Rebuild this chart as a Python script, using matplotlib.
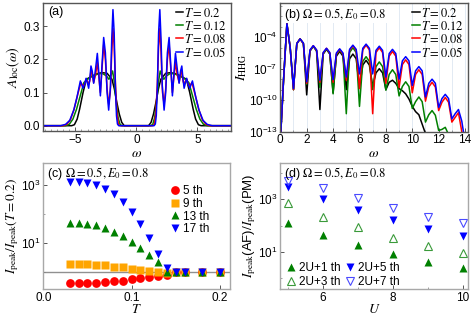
import numpy as np
import matplotlib.pyplot as plt
from matplotlib.ticker import MultipleLocator, FixedLocator, NullFormatter

plt.rcParams['font.family'] = ['Liberation Sans', 'DejaVu Sans']
plt.rcParams['mathtext.fontset'] = 'stix'
plt.rcParams['font.size'] = 8
plt.rcParams['xtick.direction'] = 'in'
plt.rcParams['ytick.direction'] = 'in'

# ---- (a) local spectral function, omega >= 0 (spectrum is symmetric) ----
w_T020 = [0.0, 1.0, 1.2, 1.4, 1.6, 1.8, 2.0, 2.4, 2.8, 3.2, 3.6, 4.1, 4.37, 4.65, 4.85, 5.08, 5.3, 7.8]
A_T020 = [0, 0, 0.01, 0.035, 0.07, 0.11, 0.14, 0.158, 0.16, 0.157, 0.15, 0.14, 0.1, 0.05, 0.02, 0.003, 0, 0]

w_T012 = [0.0, 1.2, 1.35, 1.5, 1.65, 1.8, 1.95, 2.1, 2.25, 2.45, 2.8, 3.2, 3.6, 4.0, 4.3, 4.6, 4.9, 5.2, 5.5, 5.8, 7.8]
A_T012 = [0, 0, 0.005, 0.025, 0.07, 0.13, 0.165, 0.15, 0.14, 0.15, 0.158, 0.155, 0.15, 0.14, 0.13, 0.09, 0.05, 0.02, 0.004, 0, 0]

w_T008 = [0, 1.35, 1.48, 1.6, 1.72, 1.82, 1.92, 2.02, 2.14, 2.27, 2.4, 2.54, 2.68, 2.82, 2.95, 3.08, 3.2, 3.34,
          3.5, 3.62, 3.72, 3.82, 3.91, 4.02, 4.12, 4.24, 4.37, 4.55, 4.8, 5.1, 5.4, 5.7, 6.0, 7.8]
A_T008 = [0, 0, 0.005, 0.04, 0.13, 0.24, 0.293, 0.22, 0.1, 0.065, 0.11, 0.2, 0.245, 0.17, 0.1, 0.15, 0.19, 0.155,
          0.13, 0.155, 0.165, 0.135, 0.125, 0.135, 0.14, 0.125, 0.12, 0.13, 0.095, 0.05, 0.018, 0.004, 0, 0]

w_T005 = [0, 1.45, 1.55, 1.63, 1.72, 1.82, 1.92, 2.02, 2.12, 2.27, 2.4, 2.54, 2.68, 2.82, 2.95, 3.08, 3.2, 3.35,
          3.5, 3.62, 3.72, 3.82, 3.91, 4.02, 4.12, 4.24, 4.37, 4.59, 4.86, 5.13, 5.46, 5.8, 6.2, 7.8]
A_T005 = [0, 0, 0.005, 0.03, 0.12, 0.28, 0.35, 0.26, 0.12, 0.047, 0.1, 0.22, 0.266, 0.18, 0.09, 0.16, 0.218, 0.17,
          0.128, 0.165, 0.18, 0.14, 0.113, 0.13, 0.143, 0.125, 0.113, 0.135, 0.087, 0.047, 0.016, 0.004, 0, 0]

# ---- (b) HHG spectra, log10(I) sampled every 0.25 in omega from 0 to 14 ----
w_hhg = np.arange(0, 14.01, 0.25)
logI_T020 = [-14, -8.0, -2.7, -5.0, -9.0, -4.6, -4.15, -4.6, -9.5, -5.3, -4.85, -5.3, -10.9, -5.6, -5.15, -5.6,
             -9.3, -5.8, -5.35, -5.8, -9.0, -6.05, -5.6, -6.05, -8.8, -6.65, -6.2, -6.65, -8.7, -7.4, -7.0, -7.4,
             -9.0, -8.3, -8.1, -8.4, -8.9, -9.1, -9.4, -9.9, -10.6, -11.1, -11.4, -12.3, -13.2, -14, -14, -14,
             -14, -14, -14, -14, -14, -14, -14, -14, -14]
logI_T012 = [-14, -8.0, -2.7, -5.0, -9.0, -4.6, -4.15, -4.6, -8.5, -5.3, -4.85, -5.3, -8.8, -5.55, -5.1, -5.55,
             -9.4, -5.65, -5.2, -5.65, -11.3, -5.45, -5.0, -5.45, -10.6, -6.3, -5.85, -6.3, -9.0, -6.8, -6.35, -6.8,
             -9.05, -7.55, -7.1, -7.55, -9.6, -8.7, -8.25, -8.7, -10.8, -10.15, -9.7, -10.15, -12.1, -11.4, -11.0,
             -11.45, -12.9, -12.8, -12.6, -13.3, -14, -14, -14, -14, -14]
logI_T008 = [-14, -8.0, -2.7, -5.0, -9.0, -4.6, -4.15, -4.6, -8.4, -5.25, -4.8, -5.25, -8.3, -5.5, -5.05, -5.5,
             -8.3, -5.6, -5.15, -5.6, -8.1, -5.25, -4.8, -5.25, -8.9, -5.2, -4.75, -5.2, -11.3, -5.45, -5.0, -5.45,
             -8.4, -5.8, -5.35, -5.8, -8.8, -6.6, -6.15, -6.6, -9.3, -7.55, -7.1, -7.55, -10.1, -8.75, -8.3,
             -8.75, -11.0, -10.2, -9.75, -10.2, -12.1, -11.65, -11.2, -13.0, -14]
logI_T005 = [-14, -8.0, -2.7, -5.0, -8.9, -4.6, -4.15, -4.55, -8.25, -5.2, -4.8, -5.2, -8.1, -5.45, -5.05, -5.45,
             -8.05, -5.5, -5.1, -5.5, -7.8, -5.15, -4.75, -5.15, -7.5, -5.05, -4.65, -5.05, -7.5, -5.25, -4.85, -5.25,
             -7.8, -5.55, -5.15, -5.55, -8.0, -6.25, -5.85, -6.25, -8.6, -7.2, -6.8, -7.2, -9.7, -8.4, -8.0,
             -8.4, -10.7, -9.85, -9.45, -9.85, -11.8, -11.3, -10.9, -12.0, -14]

# ---- (c) peak intensity ratio vs temperature ----
T_vals = [0.03, 0.04, 0.05, 0.06, 0.07, 0.08, 0.09, 0.10, 0.11, 0.12, 0.13, 0.14, 0.15, 0.16, 0.18, 0.20]
h5 = [0.42, 0.43, 0.44, 0.45, 0.47, 0.5, 0.53, 0.58, 0.63, 0.68, 0.73, 0.85, 1, 1, 1, 1]
h9 = [1.95, 1.95, 1.9, 1.85, 1.8, 1.6, 1.5, 1.35, 1.2, 1.1, 1.05, 0.97, 1, 1, 1, 1]
h13 = [48, 48, 46, 42, 33, 25, 18, 11.4, 6.7, 4.0, 2.2, 1.05, 1, 1, 1, 1]
h17 = [1290, 1230, 1130, 1000, 710, 490, 267, 121, 46, 14.8, 4.3, 1.4, 1, 1, 1, 1]

# ---- (d) AF / PM peak ratio vs U ----
U_vals = [5, 6, 7, 8, 9, 10]
r_2U1 = [128, 44, 18, 8, 4, 2.5]
r_2U3 = [700, 218, 86, 35, 16.6, 9]
r_2U5 = [2870, 1000, 390, 162, 71, 40]
r_2U7 = [5100, 2630, 1090, 480, 218, 121]

temps = ['0.2', '0.12', '0.08', '0.05']
cols = ['black', 'green', 'red', 'blue']


def mirror(w, a):
    w = np.asarray(w, float)
    a = np.asarray(a, float)
    return np.concatenate([-w[:0:-1], w]), np.concatenate([a[:0:-1], a])


fig = plt.figure(figsize=(4.74, 3.23), dpi=100)
W, H = 474, 323
ax_a = fig.add_axes([43 / W, 1 - 131 / H, 188 / W, 128 / H])
ax_b = fig.add_axes([280.3 / W, 1 - 131.5 / H, 187.4 / W, 128.5 / H])
ax_c = fig.add_axes([43.3 / W, 1 - 289 / H, 186.7 / W, 126.3 / H])
ax_d = fig.add_axes([280.3 / W, 1 - 289 / H, 187.4 / W, 126.3 / H])

# (a)
for w, A, c, t in zip([w_T020, w_T012, w_T008, w_T005], [A_T020, A_T012, A_T008, A_T005], cols, temps):
    ww, aa = mirror(w, A)
    ax_a.plot(ww, aa, color=c, lw=1.1, label=r'$T=%s$' % t)
ax_a.set_xlim(-7.65, 7.75)
ax_a.set_ylim(-0.016, 0.37)
ax_a.xaxis.set_major_locator(MultipleLocator(5))
ax_a.xaxis.set_minor_locator(MultipleLocator(0.5))
ax_a.yaxis.set_major_locator(MultipleLocator(0.1))
ax_a.yaxis.set_major_formatter(plt.FormatStrFormatter('%.1f'))
ax_a.set_xlabel(r'$\omega$', fontsize=10, labelpad=0)
ax_a.set_ylabel(r'$A_{\rm loc}(\omega)$', fontsize=10, labelpad=1)
ax_a.text(0.03, 0.98, '(a)', transform=ax_a.transAxes, va='top', ha='left', fontsize=9)
ax_a.legend(loc='upper right', bbox_to_anchor=(1.02, 1.03), frameon=False, fontsize=9,
            handlelength=0.6, handletextpad=0.1, labelspacing=0.0, borderaxespad=0.2)

# (b)
for lg, c, t in zip([logI_T020, logI_T012, logI_T008, logI_T005], cols, temps):
    ax_b.semilogy(w_hhg, 10.0 ** np.asarray(lg), color=c, lw=1.1, label=r'$T=%s$' % t)
ax_b.set_xlim(0, 14.2)
ax_b.set_ylim(1e-13, 10 ** -0.72)
ax_b.xaxis.set_major_locator(MultipleLocator(2))
ax_b.xaxis.set_minor_locator(MultipleLocator(1))
ax_b.grid(axis='x', which='both', color='#e2eaf3', lw=0.7)
ax_b.set_axisbelow(True)
ax_b.yaxis.set_major_locator(FixedLocator([1e-13, 1e-10, 1e-7, 1e-4]))
ax_b.yaxis.set_minor_locator(FixedLocator([10.0 ** k for k in range(-13, 0)]))
ax_b.yaxis.set_minor_formatter(NullFormatter())
ax_b.set_xlabel(r'$\omega$', fontsize=10, labelpad=0)
ax_b.set_ylabel(r'$I_{\rm HHG}$', fontsize=10, labelpad=0)
ax_b.text(0.02, 0.98, r'(b) $\Omega=0.5, E_0=0.8$', transform=ax_b.transAxes, va='top', ha='left',
          fontsize=9, bbox=dict(facecolor='white', edgecolor='none', pad=0.5))
ax_b.legend(loc='upper right', bbox_to_anchor=(1.02, 1.03), frameon=False, fontsize=9,
            handlelength=0.6, handletextpad=0.1, labelspacing=0.0, borderaxespad=0.2)

# (c)
ax_c.axhline(1, color='#909090', lw=1.0, zorder=1)
ax_c.semilogy(T_vals, h5, 'o', color='red', ms=6.3, mec='none', label='5 th')
ax_c.semilogy(T_vals, h9, 's', color='orange', ms=5.6, mec='none', label='9 th')
ax_c.semilogy(T_vals, h13, '^', color='green', ms=6.3, mec='none', label='13 th')
ax_c.semilogy(T_vals, h17, 'v', color='blue', ms=6.3, mec='none', label='17 th')
ax_c.set_xlim(0, 0.2113)
ax_c.set_ylim(0.272, 5750)
ax_c.xaxis.set_major_locator(MultipleLocator(0.1))
ax_c.xaxis.set_major_formatter(plt.FormatStrFormatter('%.1f'))
ax_c.yaxis.set_major_locator(FixedLocator([1e1, 1e3]))
ax_c.yaxis.set_minor_locator(FixedLocator([1e0, 1e2]))
ax_c.yaxis.set_minor_formatter(NullFormatter())
ax_c.set_xlabel(r'$T$', fontsize=10, labelpad=-1)
ax_c.set_ylabel(r'$I_{\rm peak}/I_{\rm peak}(T=0.2)$', fontsize=9.5, labelpad=0)
ax_c.text(0.02, 0.985, r'(c) $\Omega=0.5, E_0=0.8$', transform=ax_c.transAxes, va='top', ha='left', fontsize=9)
ax_c.legend(loc='upper left', bbox_to_anchor=(0.68, 0.82), frameon=False, fontsize=8.5,
            handlelength=0.8, handletextpad=0.3, labelspacing=0.05, borderaxespad=0, borderpad=0)

# (d)
ax_d.semilogy(U_vals, r_2U1, '^', color='green', ms=6.3, mec='none', label='2U+1 th')
ax_d.semilogy(U_vals, r_2U3, '^', mfc='none', mec='#3a9a3a', mew=0.8, ms=6.3, label='2U+3 th')
ax_d.semilogy(U_vals, r_2U5, 'v', color='blue', ms=6.3, mec='none', label='2U+5 th')
ax_d.semilogy(U_vals, r_2U7, 'v', mfc='none', mec='#4a4aff', mew=0.8, ms=6.3, label='2U+7 th')
ax_d.set_xlim(4.78, 10.14)
ax_d.set_ylim(0.38, 25000)
ax_d.xaxis.set_major_locator(MultipleLocator(2))
ax_d.xaxis.set_minor_locator(MultipleLocator(1))
ax_d.yaxis.set_major_locator(FixedLocator([1e1, 1e3]))
ax_d.yaxis.set_minor_locator(FixedLocator([1e0, 1e2, 1e4]))
ax_d.yaxis.set_minor_formatter(NullFormatter())
ax_d.set_xlabel(r'$U$', fontsize=10, labelpad=-1)
ax_d.set_ylabel(r'$I_{\rm peak}$(AF)$/I_{\rm peak}$(PM)', fontsize=9.5, labelpad=0)
ax_d.text(0.02, 0.985, r'(d) $\Omega=0.5, E_0=0.8$', transform=ax_d.transAxes, va='top', ha='left', fontsize=9)
ax_d.legend(loc='lower left', bbox_to_anchor=(0.03, 0.01), frameon=False, fontsize=8.5, ncol=2,
            handlelength=0.8, handletextpad=0.3, labelspacing=0.15, columnspacing=0.4,
            borderaxespad=0, borderpad=0)

for ax, sc in [(ax_a, '#555555'), (ax_b, '#555555'), (ax_c, '#a8a8a8'), (ax_d, '#a8a8a8')]:
    for s in ax.spines.values():
        s.set_color(sc)
        s.set_linewidth(1.0)
    ax.tick_params(which='major', length=3, width=0.7, color='#555555', labelsize=8.5, pad=2)
    ax.tick_params(which='minor', length=1.6, width=0.5, color='#777777')

fig.savefig('out.png', dpi=100)
